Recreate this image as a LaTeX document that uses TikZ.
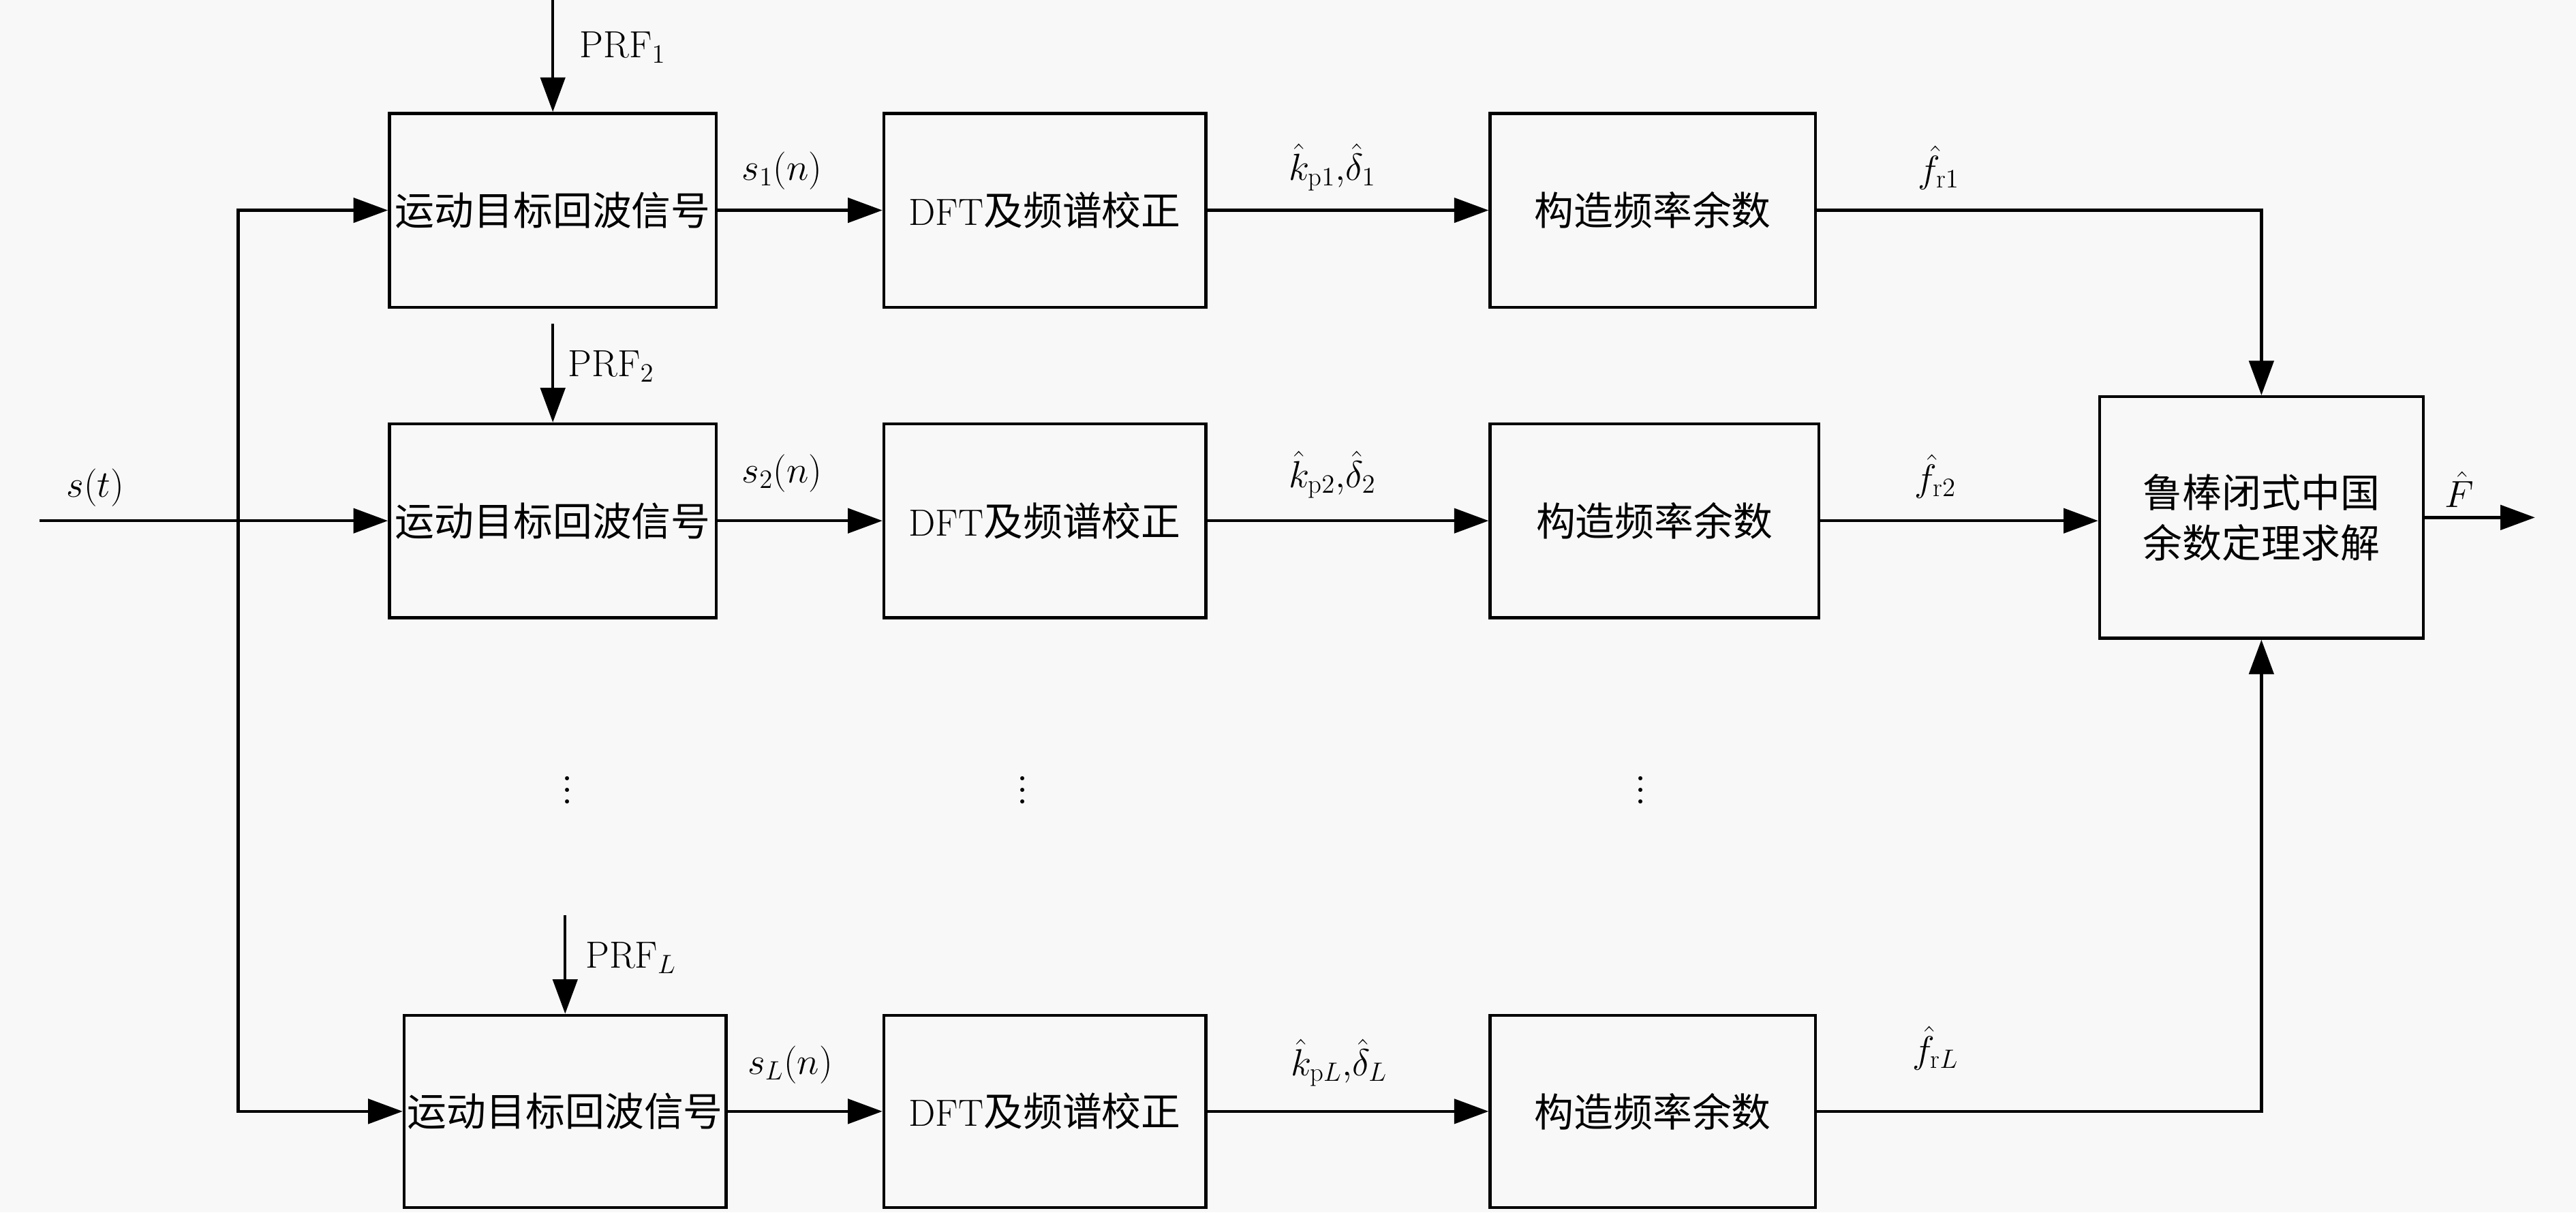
\RequirePackage{fix-cm}
\documentclass[tikz,border=0pt]{standalone}
\usepackage{fontspec}
\newfontfamily\cjk{Noto Sans CJK SC}
\usetikzlibrary{arrows.meta}
\definecolor{bgc}{HTML}{F8F8F8}
\newcommand\myvdots{\vbox{\baselineskip=6.9pt\lineskiplimit=-10pt\hbox{.}\hbox{.}\hbox{.}}}
\begin{document}
\begin{tikzpicture}[x=1pt,y=-1pt,line width=1.8pt,
  blk/.style={draw,line width=1.8pt,inner sep=0pt,minimum height=118pt,
    font=\fontsize{24}{28}\selectfont},
  arr/.style={-{Triangle[length=21pt,width=15pt]}},
  lab/.style={inner sep=0pt,font=\fontsize{23}{27}\selectfont},
  dts/.style={inner sep=0pt,font=\fontsize{30}{32}\selectfont}]
\fill[bgc] (0,0) rectangle (1568,738);
\useasboundingbox (0,0) rectangle (1568,738);
% boxes
\node[blk,minimum width=199pt] (A1) at (336.5,128) {\cjk 运动目标回波信号};
\node[blk,minimum width=199pt] (A2) at (336.5,317) {\cjk 运动目标回波信号};
\node[blk,minimum width=196pt,minimum height=117pt] (AL) at (344,676.5) {\cjk 运动目标回波信号};
\node[blk,minimum width=196pt] (B1) at (636,128) {\fontsize{23}{26}\selectfont DFT\cjk\fontsize{24}{28}\selectfont 及频谱校正};
\node[blk,minimum width=196pt] (B2) at (636,317) {\fontsize{23}{26}\selectfont DFT\cjk\fontsize{24}{28}\selectfont 及频谱校正};
\node[blk,minimum width=196pt,minimum height=117pt] (BL) at (636,676.5) {\fontsize{23}{26}\selectfont DFT\cjk\fontsize{24}{28}\selectfont 及频谱校正};
\node[blk,minimum width=198pt] (C1) at (1006,128) {\cjk 构造频率余数};
\node[blk,minimum width=200pt] (C2) at (1007,317) {\cjk 构造频率余数};
\node[blk,minimum width=198pt,minimum height=117pt] (CL) at (1006,676.5) {\cjk 构造频率余数};
\node[blk,minimum width=197pt,minimum height=147pt,align=center,
  font=\cjk\fontsize{24}{31}\selectfont] (D) at (1376.5,315) {鲁棒闭式中国\\余数定理求解};
% free ends
\coordinate (in) at (24,317);
\coordinate (sp) at (145,317);
\coordinate (p1) at (336.5,0);
\coordinate (p2) at (336.5,197);
\coordinate (pL) at (344,557);
\coordinate (out) at (1543,315);
% connectors
\draw (in) -- (sp);
\draw[arr] (sp) -- (A2.west);
\draw[arr] (sp) |- (A1.west);
\draw[arr] (sp) |- (AL.west);
\draw[arr] (p1) -- (A1.north);
\draw[arr] (p2) -- (A2.north);
\draw[arr] (pL) -- (AL.north);
\draw[arr] (A1.east) -- (B1.west);
\draw[arr] (A2.east) -- (B2.west);
\draw[arr] (AL.east) -- (BL.west);
\draw[arr] (B1.east) -- (C1.west);
\draw[arr] (B2.east) -- (C2.west);
\draw[arr] (BL.east) -- (CL.west);
\draw[arr] (C1.east) -| (D.north);
\draw[arr] (C2.east) -- (C2.east -| D.west);
\draw[arr] (CL.east) -| (D.south);
\draw[arr] (D.east) -- (out);
% labels
\node[lab] (lst) at (58,297) {$s(t)$};
\node[lab] (lp1) at (379,29) {PRF$_1$};
\node[lab] (lp2) at (372,223) {PRF$_2$};
\node[lab] (lpL) at (384,583) {PRF$_L$};
\node[lab] (ls1) at (476,104) {$s_1(n)$};
\node[lab] (ls2) at (476,288) {$s_2(n)$};
\node[lab] (lsL) at (481,648) {$s_L(n)$};
\node[lab] (lk1) at (811,102) {$\hat{k}_{\mathrm{p}1}{,}\hat{\delta}_1$};
\node[lab] (lk2) at (811,289) {$\hat{k}_{\mathrm{p}2}{,}\hat{\delta}_2$};
\node[lab] (lkL) at (815,647) {$\hat{k}_{\mathrm{p}L}{,}\hat{\delta}_L$};
\node[lab] (lf1) at (1180,102) {$\hat{f}_{\mathrm{r}1}$};
\node[lab] (lf2) at (1178,290) {$\hat{f}_{\mathrm{r}2}$};
\node[lab] (lfL) at (1178,638) {$\hat{f}_{\mathrm{r}L}$};
\node[lab] (lF) at (1497,298) {$\hat{F}$};
\node[dts] (d1) at (345.5,481) {\myvdots};
\node[dts] (d2) at (622.5,481) {\myvdots};
\node[dts] (d3) at (998.5,481) {\myvdots};
\end{tikzpicture}
\end{document}
